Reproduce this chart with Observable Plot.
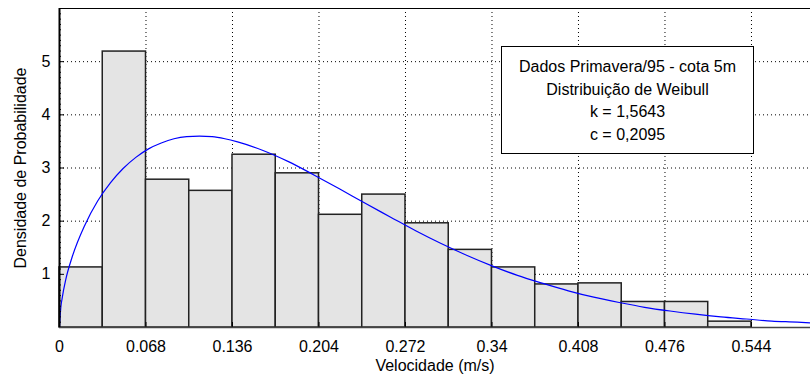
<!DOCTYPE html>
<html><head><meta charset="utf-8">
<script src="https://cdn.jsdelivr.net/npm/d3@7"></script>
<script src="https://cdn.jsdelivr.net/npm/@observablehq/plot@0.6"></script>
<style>
body{margin:0;background:#fff;}
#wrap{position:relative;width:810px;height:381px;font-family:"Liberation Sans",Arial,sans-serif;}
#legend{position:absolute;left:501px;top:46px;width:253px;height:108px;box-sizing:border-box;border:1.5px solid #000;background:#fff;text-align:center;font-size:16px;line-height:22.5px;padding-top:9px;color:#000;}
</style></head><body><div id="wrap"></div>
<script>
const binEdges = [0, 0.034, 0.068, 0.102, 0.136, 0.170, 0.204, 0.238, 0.272, 0.306, 0.340, 0.374, 0.408, 0.442, 0.476, 0.510, 0.544];
const density = [1.13, 5.19, 2.78, 2.57, 3.25, 2.90, 2.12, 2.50, 1.96, 1.46, 1.13, 0.81, 0.83, 0.48, 0.48, 0.11];
const xTicks = [0, 0.068, 0.136, 0.204, 0.272, 0.34, 0.408, 0.476, 0.544];
const yTicks = [1, 2, 3, 4, 5];
const yMinorTicks = d3.range(1, 60).map(i => i / 10);
const curveX = [0, 0.001, 0.002, 0.005, 0.01, 0.02, 0.03, 0.04, 0.05, 0.06, 0.07, 0.08, 0.09, 0.10, 0.11, 0.12, 0.13, 0.14, 0.16, 0.18, 0.20, 0.22, 0.24, 0.26, 0.28, 0.30, 0.32, 0.34, 0.36, 0.38, 0.40, 0.42, 0.44, 0.46, 0.48, 0.50, 0.52, 0.54, 0.56, 0.58, 0.5904];
const curveY = [0, 0.37, 0.54, 0.91, 1.33, 1.93, 2.38, 2.72, 2.99, 3.20, 3.36, 3.47, 3.55, 3.59, 3.60, 3.59, 3.55, 3.49, 3.33, 3.12, 2.87, 2.61, 2.34, 2.08, 1.82, 1.58, 1.36, 1.16, 0.98, 0.83, 0.69, 0.57, 0.47, 0.38, 0.31, 0.25, 0.20, 0.16, 0.12, 0.10, 0.085];
const legendLines = ["Dados Primavera/95 - cota 5m", "Distribuição de Weibull", "k = 1,5643", "c = 0,2095"];
const xLabel = "Velocidade (m/s)";
const yLabel = "Densidade de Probabilidade";

const bars = density.map((d, i) => ({x1: binEdges[i], x2: binEdges[i + 1], y: d}));
const curve = curveX.map((x, i) => ({x, y: curveY[i]}));
const font = "'Liberation Sans', Arial, sans-serif";

const chart = Plot.plot({
  width: 810, height: 381,
  marginLeft: 59, marginRight: 0, marginTop: 8, marginBottom: 54,
  style: {fontFamily: font, fontSize: "16px", background: "#fff", color: "#000", overflow: "visible"},
  x: {domain: [0, 0.5904]},
  y: {domain: [0, 6]},
  marks: [
    Plot.ruleX(xTicks.slice(1), {stroke: "#000", strokeDasharray: "1,3", strokeWidth: 1}),
    Plot.ruleY(yTicks, {stroke: "#000", strokeDasharray: "1,3", strokeWidth: 1}),
    Plot.rectY(bars, {x1: "x1", x2: "x2", y: "y", fill: "#e4e4e4", stroke: "#222", strokeWidth: 1.5}),
    Plot.line(curve, {x: "x", y: "y", stroke: "#0000ff", strokeWidth: 1.2, curve: "monotone-x", clip: true}),
    Plot.ruleY(yMinorTicks, {stroke: "#000", strokeWidth: 1, insetRight: 749}),
    Plot.ruleY(yTicks, {stroke: "#000", strokeWidth: 1, insetRight: 746}),
    Plot.ruleX(xTicks, {stroke: "#000", strokeWidth: 1, insetTop: 314}),
    Plot.ruleY([0], {stroke: "#444", strokeWidth: 1.5}),
    Plot.ruleY([6], {stroke: "#000", strokeWidth: 1}),
    Plot.ruleX([0], {stroke: "#000", strokeWidth: 2}),
    Plot.axisX({ticks: xTicks, tickFormat: d => String(d), tickSize: 0, tickPadding: 13, label: null, fontSize: 16}),
    Plot.axisY({ticks: yTicks, tickFormat: d => String(d), tickSize: 0, tickPadding: 9, label: null, fontSize: 16}),
    Plot.text([xLabel], {text: d => d, frameAnchor: "bottom", dy: 38, textAnchor: "middle", lineAnchor: "middle", fontSize: 16}),
    Plot.text([yLabel], {text: d => d, frameAnchor: "left", dx: -39, rotate: -90, textAnchor: "middle", lineAnchor: "middle", fontSize: 16})
  ]
});
const wrap = document.getElementById("wrap");
wrap.appendChild(chart);
const legend = document.createElement("div");
legend.id = "legend";
legendLines.forEach(t => { const d = document.createElement("div"); d.textContent = t; legend.appendChild(d); });
wrap.appendChild(legend);
</script></body></html>
